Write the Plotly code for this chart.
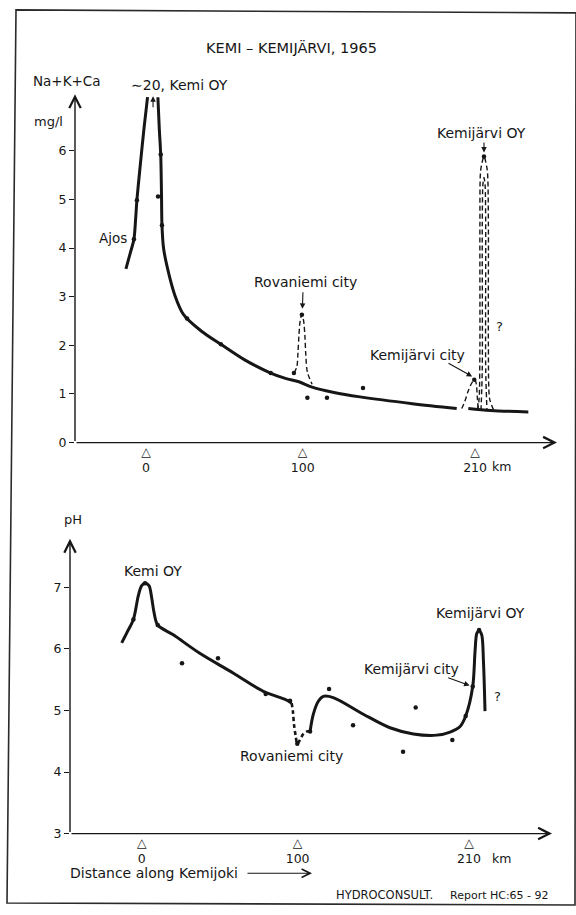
import plotly.graph_objects as go

FONT = "DejaVu Sans"
INK = "#161616"
W, H = 576, 915

# ---------------- upper panel: Na+K+Ca, mg/l ----------------
na_left_km = [-12.8, -10.0, -7.7, -6.6, -5.8, -3.5, -1.3, 1.0]
na_left_val = [3.57, 3.90, 4.18, 4.60, 4.98, 5.75, 6.45, 7.10]

na_main_km = [7.6, 8.5, 9.4, 9.9, 10.2, 11.2, 13.6, 18.3, 24.0, 35.0, 47.8, 63.0,
              79.6, 89.0, 97.6, 106.0, 120.0, 136.6, 170.0, 198.3]
na_main_val = [7.10, 6.45, 5.92, 5.10, 4.47, 4.00, 3.60, 3.04, 2.63, 2.30, 2.02, 1.70,
               1.43, 1.32, 1.25, 1.14, 1.03, 0.94, 0.80, 0.70]

na_tail_km = [205.7, 220.0, 244.0]
na_tail_val = [0.70, 0.66, 0.63]

# local peaks (dashed)
rov_peak_km = [94.4, 96.2, 97.0, 97.6, 98.4, 99.5, 100.6, 101.4, 102.0, 103.0, 106.0]
rov_peak_val = [1.43, 1.55, 1.85, 2.20, 2.50, 2.63, 2.50, 2.20, 1.80, 1.45, 1.20]

kcity_peak_km = [201.5, 203.5, 205.5, 207.5, 209.2, 210.0, 210.8, 211.4, 212.0]
kcity_peak_val = [0.70, 0.85, 1.05, 1.20, 1.28, 1.29, 1.20, 0.95, 0.70]

koy_outer_km = [211.5, 212.6, 213.1, 213.1, 213.6, 215.7, 217.8, 218.5, 218.5, 219.3, 222.0]
koy_outer_val = [0.66, 0.90, 2.00, 4.50, 5.60, 5.88, 5.60, 4.50, 2.00, 0.90, 0.66]
koy_inner_km = [213.8, 214.6, 214.6, 215.0, 215.7, 216.4, 216.8, 216.8, 217.6]
koy_inner_val = [0.66, 1.50, 4.50, 5.30, 5.45, 5.30, 4.50, 1.50, 0.66]

na_dot_km = [-7.7, -5.8, 7.7, 9.4, 10.2, 26.2, 47.8, 79.6, 94.4, 99.5, 103.0, 115.5,
             138.5, 209.5, 215.7]
na_dot_val = [4.18, 4.98, 5.06, 5.92, 4.47, 2.55, 2.02, 1.43, 1.43, 2.63, 0.92, 0.92,
              1.12, 1.29, 5.88]

# ---------------- lower panel: pH ----------------
ph_a_km = [-12.9, -9.5, -5.4, -2.2, -0.1, 2.1, 4.6, 6.4, 7.8, 10.2, 20.2, 37.2, 58.6,
           78.0, 86.6, 92.0, 96.2]
ph_a_val = [6.10, 6.27, 6.48, 6.87, 7.03, 7.07, 7.03, 6.82, 6.60, 6.39, 6.23, 5.93, 5.61,
            5.31, 5.23, 5.18, 5.12]

ph_dip_km = [96.2, 97.0, 97.7, 98.8, 99.8, 101.5, 103.7, 106.0, 108.0]
ph_dip_val = [5.12, 4.98, 4.77, 4.58, 4.46, 4.52, 4.62, 4.66, 4.66]

ph_b_km = [108.0, 110.1, 113.3, 116.5, 122.9, 142.2, 159.3, 174.3, 189.3, 197.9, 204.3,
           207.9, 212.4, 213.9, 215.0, 216.5]
ph_b_val = [4.66, 4.94, 5.15, 5.23, 5.21, 4.94, 4.72, 4.62, 4.60, 4.65, 4.74,
            4.91, 5.39, 5.96, 6.25, 6.31]

ph_c_km = [216.5, 218.2, 219.3, 220.3]
ph_c_val = [6.31, 6.23, 5.80, 4.99]

ph_dot_km = [-5.4, 2.1, 10.2, 25.8, 48.9, 79.5, 95.1, 99.8, 108.0, 120.2, 135.6, 167.7,
             175.8, 199.3, 207.9, 212.4, 216.5]
ph_dot_val = [6.48, 7.07, 6.39, 5.77, 5.85, 5.27, 5.16, 4.46, 4.66, 5.35, 4.76, 4.33,
              5.05, 4.52, 4.91, 5.39, 6.31]

# axes
km_ticks = [0, 100, 210]
km_tick_text = ["0", "100", "210"]
na_ticks = [0, 1, 2, 3, 4, 5, 6]
ph_ticks = [3, 4, 5, 6, 7]

NA_RANGE = [0, 7.16]
PH_RANGE = [3, 7.79]
KM_RANGE_TOP = [-45.3, 262.3]
KM_RANGE_BOT = [-46.1, 263.3]


def px(x):
    return x / W


def py(y):
    return 1 - y / H


fig = go.Figure()


def curve(xs, ys, xa, ya, width=3.0, dash="solid", smooth=0.9):
    fig.add_trace(go.Scatter(
        x=xs, y=ys, xaxis=xa, yaxis=ya, mode="lines",
        line=dict(color=INK, width=width, dash=dash, shape="spline", smoothing=smooth),
        hoverinfo="skip", showlegend=False, cliponaxis=False))


def dots(xs, ys, xa, ya):
    fig.add_trace(go.Scatter(
        x=xs, y=ys, xaxis=xa, yaxis=ya, mode="markers",
        marker=dict(color=INK, size=4.5), hoverinfo="skip",
        showlegend=False, cliponaxis=False))


# upper panel
curve(na_left_km, na_left_val, "x", "y")
curve(na_main_km, na_main_val, "x", "y")
curve(na_tail_km, na_tail_val, "x", "y")
curve(rov_peak_km, rov_peak_val, "x", "y", width=1.4, dash="5px,3px")
curve(kcity_peak_km, kcity_peak_val, "x", "y", width=1.4, dash="5px,3px")
curve(koy_outer_km, koy_outer_val, "x", "y", width=1.4, dash="5px,3px", smooth=0.7)
curve(koy_inner_km, koy_inner_val, "x", "y", width=1.4, dash="5px,3px", smooth=0.7)
dots(na_dot_km, na_dot_val, "x", "y")

# lower panel
curve(ph_a_km, ph_a_val, "x2", "y2")
curve(ph_dip_km, ph_dip_val, "x2", "y2", width=2.6, dash="4px,3px")
curve(ph_b_km, ph_b_val, "x2", "y2")
curve(ph_c_km, ph_c_val, "x2", "y2")
dots(ph_dot_km, ph_dot_val, "x2", "y2")

tickfont = dict(family=FONT, size=12.5, color=INK)
tri_text = ["\u25b3<br>" + t for t in km_tick_text]

common_x = dict(showgrid=False, zeroline=False, showline=False, ticks="",
                tickvals=km_ticks, ticktext=tri_text, tickfont=tickfont,
                fixedrange=True)
common_y = dict(showgrid=False, zeroline=False, showline=False, ticks="outside",
                ticklen=5, tickwidth=1.4, tickcolor=INK, tickfont=tickfont,
                fixedrange=True)

fig.update_layout(
    width=W, height=H,
    margin=dict(l=0, r=0, t=0, b=0),
    paper_bgcolor="white", plot_bgcolor="rgba(0,0,0,0)",
    font=dict(family=FONT, color=INK),
    xaxis=dict(domain=[px(75), px(557)], range=KM_RANGE_TOP, anchor="y", **common_x),
    yaxis=dict(domain=[py(446), py(95)], range=NA_RANGE, anchor="x",
               tickvals=na_ticks, **common_y),
    xaxis2=dict(domain=[px(70), px(552)], range=KM_RANGE_BOT, anchor="y2", **common_x),
    yaxis2=dict(domain=[py(840), py(543)], range=PH_RANGE, anchor="x2",
                tickvals=ph_ticks, **common_y),
)

ann = []


def axis_arrow(xa, ya, x0, y0, x1, y1):
    ann.append(dict(xref=xa, yref=ya, axref=xa, ayref=ya, x=x1, y=y1, ax=x0, ay=y0,
                    text="", showarrow=True, arrowhead=5, arrowsize=1.6,
                    arrowwidth=1.4, arrowcolor=INK, standoff=0, startstandoff=0))


# axis lines with arrow tips
axis_arrow("x", "y", KM_RANGE_TOP[0], 0, KM_RANGE_TOP[1], 0)
axis_arrow("x", "y", KM_RANGE_TOP[0], 0, KM_RANGE_TOP[0], NA_RANGE[1])
axis_arrow("x2", "y2", KM_RANGE_BOT[0], 3, KM_RANGE_BOT[1], 3)
axis_arrow("x2", "y2", KM_RANGE_BOT[0], 3, KM_RANGE_BOT[0], PH_RANGE[1])


def label(text, x, y, xa="paper", ya="paper", size=14, anchor="center"):
    ann.append(dict(xref=xa, yref=ya, x=x, y=y, text=text, showarrow=False,
                    xanchor=anchor, yanchor="middle",
                    font=dict(family=FONT, size=size, color=INK)))


def pointer(xa, ya, x0, y0, x1, y1):
    ann.append(dict(xref=xa, yref=ya, axref=xa, ayref=ya, x=x1, y=y1, ax=x0, ay=y0,
                    text="", showarrow=True, arrowhead=2, arrowsize=1.0,
                    arrowwidth=1.1, arrowcolor=INK, standoff=1))


# titles and axis captions
label("KEMI \u2013 KEMIJÄRVI, 1965", px(291), py(48), size=14.5)
label("Na+K+Ca", px(67), py(82), size=13.5)
label("mg/l", px(48), py(122), size=13)
label("\u223c20, Kemi OY", px(179), py(86), size=14)
label("km", px(501), py(470), size=12.5)
label("pH", px(73), py(524), size=13)
label("km", px(501), py(865), size=12.5)
label("Distance along Kemijoki", px(154), py(880), size=14)
ann.append(dict(xref="paper", yref="paper", x=px(312), y=py(880), ax=-66, ay=0,
                text="", showarrow=True, arrowhead=5, arrowsize=1.4,
                arrowwidth=1.2, arrowcolor=INK, standoff=0))
label("HYDROCONSULT.", px(384), py(902), size=11.5)
label("Report HC:65 - 92", px(499), py(902), size=11)

# upper panel notes
pointer("x", "y", 4.5, 6.86, 4.5, 7.14)
label("Ajos", -21.1, 4.2, "x", "y", size=13.5)
label("Rovaniemi city", 101.5, 3.31, "x", "y")
pointer("x", "y", 100.2, 3.12, 99.8, 2.73)
label("Kemijärvi city", 173.0, 1.80, "x", "y")
pointer("x", "y", 192.1, 1.65, 208.7, 1.35)
label("Kemijärvi OY", 214.4, 6.37, "x", "y")
pointer("x", "y", 215.7, 6.20, 215.7, 5.94)
label("?", 225.9, 2.39, "x", "y", size=13)

# lower panel notes
label("Kemi OY", 7.2, 7.26, "x2", "y2")
label("Rovaniemi city", 96.4, 4.26, "x2", "y2")
label("Kemijärvi city", 173.3, 5.68, "x2", "y2")
pointer("x2", "y2", 195.7, 5.54, 211.0, 5.40)
label("Kemijärvi OY", 217.6, 6.59, "x2", "y2")
label("?", 228.2, 5.22, "x2", "y2", size=13)

fig.update_layout(annotations=ann)

# page frame
fig.add_shape(type="path", xref="paper", yref="paper",
              path=f"M {px(16)},{py(10)} L {px(576)},{py(13)} L {px(575)},{py(912)} "
                   f"L {px(7)},{py(910)} Z",
              line=dict(color="#2a2a2a", width=1.6), fillcolor="rgba(0,0,0,0)")

fig.write_html("out.html")
